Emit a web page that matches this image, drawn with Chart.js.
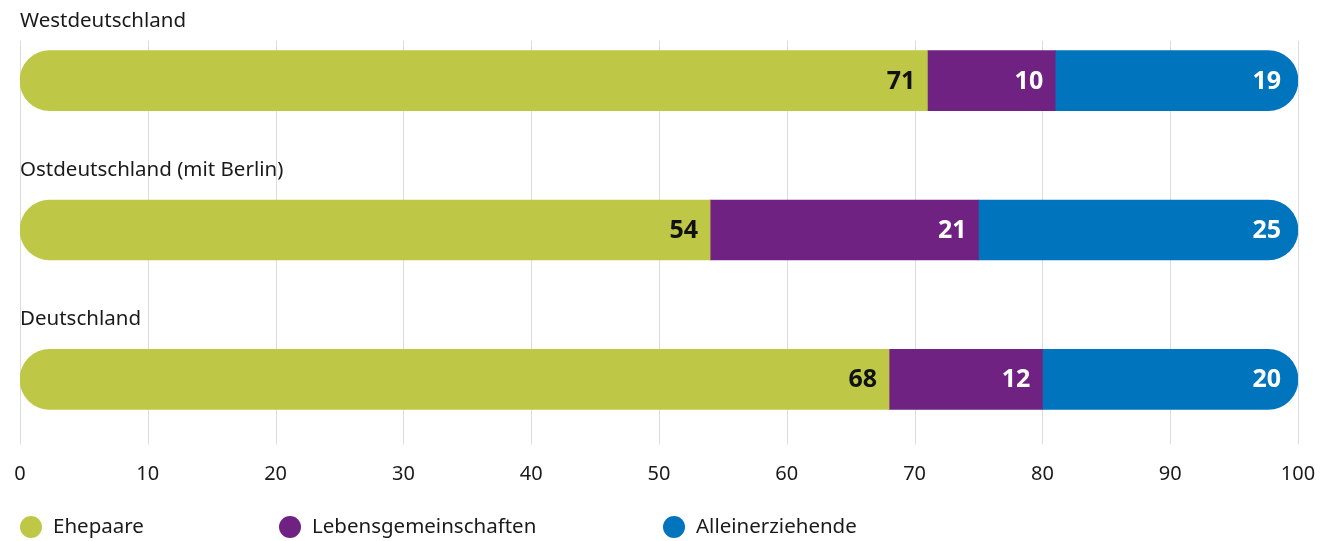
<!DOCTYPE html>
<html><head><meta charset="utf-8">
<script src="https://cdn.jsdelivr.net/npm/chart.js@4"></script>
<style>html,body{margin:0;padding:0;background:#fff}#wrap{width:1327px;height:541px;position:relative}</style>
</head><body><div id="wrap"><canvas id="c" width="1327" height="541"></canvas></div>
<script>
const categories = ["Westdeutschland", "Ostdeutschland (mit Berlin)", "Deutschland"];
const seriesNames = ["Ehepaare", "Lebensgemeinschaften", "Alleinerziehende"];
const ehepaare = [71, 54, 68];
const lebensgemeinschaften = [10, 21, 12];
const alleinerziehende = [19, 25, 20];
const xTicks = [0, 10, 20, 30, 40, 50, 60, 70, 80, 90, 100];

const colors = ["#bfc846", "#6f2282", "#0074bc"];
const labelColors = ["#111111", "#ffffff", "#ffffff"];
const FONT = "'Noto Sans', sans-serif";

const overlay = {
  id: 'overlay',
  beforeDatasetsDraw(chart) {
    const ctx = chart.ctx, xs = chart.scales.x, ys = chart.scales.y;
    const top = ys.getPixelForValue(0) - 40;
    const bottom = ys.getPixelForValue(categories.length - 1) + 65;
    ctx.save();
    ctx.strokeStyle = '#dcdcdc';
    ctx.lineWidth = 1;
    xTicks.forEach(v => {
      const x = Math.round(xs.getPixelForValue(v)) + 0.5;
      ctx.beginPath(); ctx.moveTo(x, top); ctx.lineTo(x, bottom); ctx.stroke();
    });
    ctx.fillStyle = '#1a1a1a';
    ctx.font = "20.5px " + FONT;
    ctx.textAlign = 'left'; ctx.textBaseline = 'middle';
    categories.forEach((c, i) => {
      ctx.fillText(c, xs.left, ys.getPixelForValue(i) - 60);
    });
    ctx.restore();
  },
  afterDatasetsDraw(chart) {
    const ctx = chart.ctx;
    ctx.save();
    ctx.font = "bold 25px " + FONT;
    ctx.textAlign = 'right'; ctx.textBaseline = 'middle';
    chart.data.datasets.forEach((ds, di) => {
      const meta = chart.getDatasetMeta(di);
      meta.data.forEach((el, i) => {
        ctx.fillStyle = labelColors[di];
        const off = di === chart.data.datasets.length - 1 ? 17 : 12;
        ctx.fillText(String(ds.data[i]), el.x - off, el.y + 1);
      });
    });
    // legend
    const lx = [20, 279, 663];
    const ly = 527;
    ctx.font = "20.5px " + FONT;
    ctx.textAlign = 'left';
    seriesNames.forEach((n, i) => {
      ctx.fillStyle = colors[i];
      ctx.beginPath(); ctx.arc(lx[i] + 11, ly, 11, 0, Math.PI * 2); ctx.fill();
      ctx.fillStyle = '#1a1a1a';
      ctx.fillText(n, lx[i] + 33, ly);
    });
    ctx.restore();
  }
};

const seriesData = [ehepaare, lebensgemeinschaften, alleinerziehende];
new Chart(document.getElementById('c'), {
  type: 'bar',
  data: {
    labels: categories,
    datasets: seriesNames.map((n, i) => ({
      label: n,
      data: seriesData[i],
      backgroundColor: colors[i],
      barThickness: 60,
      borderSkipped: false,
      borderRadius: i === 0 ? {topLeft: 30, bottomLeft: 30, topRight: 0, bottomRight: 0}
                 : i === 2 ? {topLeft: 0, bottomLeft: 0, topRight: 30, bottomRight: 30}
                 : 0
    }))
  },
  options: {
    indexAxis: 'y',
    responsive: false,
    animation: false,
    layout: { padding: { left: 20, right: 29, top: 6, bottom: 55 } },
    plugins: { legend: { display: false }, tooltip: { enabled: false } },
    scales: {
      x: {
        stacked: true, min: 0, max: 100,
        afterBuildTicks: s => { s.ticks = xTicks.map(v => ({ value: v })); },
        grid: { display: false },
        border: { display: false },
        ticks: { padding: 0, color: '#1a1a1a', font: { family: FONT, size: 20 }, maxRotation: 0 }
      },
      y: { stacked: true, display: false }
    }
  },
  plugins: [overlay]
});
</script></body></html>
